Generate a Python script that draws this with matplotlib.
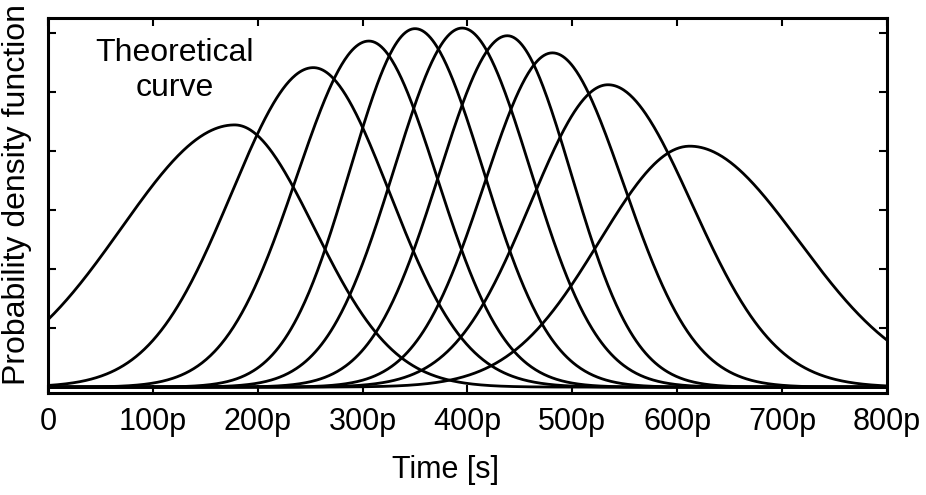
import matplotlib
matplotlib.use("Agg")
import matplotlib.pyplot as plt
import numpy as np

plt.rcParams['font.family'] = ['Liberation Sans', 'DejaVu Sans']

# peak position [ps], peak height (arb.), left / right spread [ps]
peak_t = [178, 253, 306, 350, 395, 438, 481, 534, 612]
peak_h = [4.44, 5.41, 5.86, 6.07, 6.08, 5.95, 5.66, 5.12, 4.08]
sig_left = [108, 78, 69, 62, 65, 65, 65, 74, 86]
sig_right = [76, 73, 65, 65, 65, 61, 68, 80, 104]

xticks = [0, 100, 200, 300, 400, 500, 600, 700, 800]
xticklabels = ['0', '100p', '200p', '300p', '400p', '500p', '600p', '700p', '800p']
yticks = [0, 1, 2, 3, 4, 5, 6]

fig = plt.figure(figsize=(9.26, 4.95), dpi=100)
ax = fig.add_axes([0.0518, 0.206, 0.906, 0.7576])

t = np.linspace(0, 800, 801)
for m, h, sl, sr in zip(peak_t, peak_h, sig_left, sig_right):
    s = np.where(t < m, sl, sr)
    ax.plot(t, h * np.exp(-(t - m) ** 2 / (2.0 * s ** 2)), color='black', lw=2.0)

ax.set_xlim(0, 800)
ax.set_ylim(-0.1, 6.25)
ax.set_xticks(xticks)
ax.set_xticklabels(xticklabels, fontsize=22)
ax.set_yticks(yticks)
ax.set_yticklabels([])
ax.tick_params(direction='in', top=True, right=True, length=6, width=1.5, pad=10)
for sp in ax.spines.values():
    sp.set_linewidth(2.2)

ax.text(121, 5.36, 'Theoretical\ncurve', ha='center', va='center', fontsize=23,
        linespacing=1.25)

ax.set_xlabel('Time [s]', fontsize=22)
ax.xaxis.set_label_coords(0.474, -0.165)
ax.set_ylabel('Probability density function', fontsize=23)
ax.yaxis.set_label_coords(-0.019, 0.53)

fig.savefig('out.png', dpi=100)
